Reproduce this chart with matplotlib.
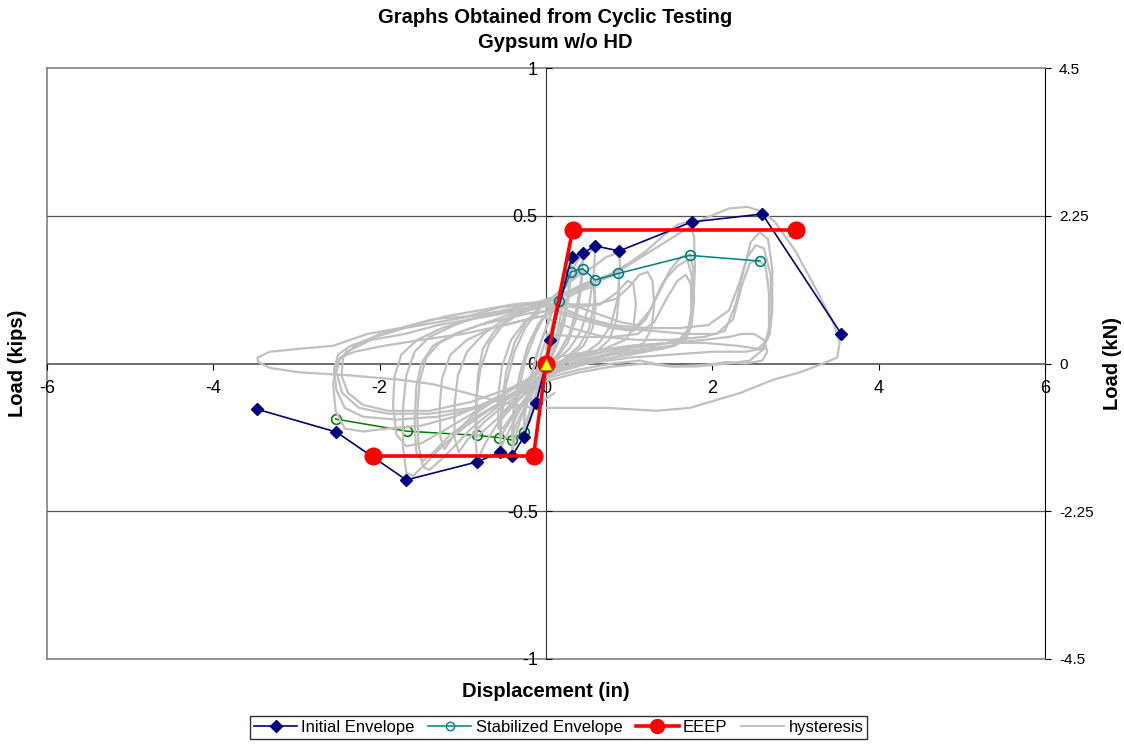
#!/usr/bin/env python3
"""Cyclic test plot: envelopes, EEEP and hysteresis loops (Gypsum w/o HD)."""

import matplotlib
matplotlib.use('Agg')
import matplotlib.pyplot as plt
from matplotlib.lines import Line2D

plt.rcParams['font.family'] = ['Liberation Sans', 'DejaVu Sans']

# ---- data (displacement in, load kips) ----
init_pos_x = [0.0, 0.05, 0.31, 0.45, 0.59, 0.88, 1.75, 2.60, 3.55]
init_pos_y = [0.0, 0.08, 0.361, 0.375, 0.398, 0.381, 0.479, 0.506, 0.10]
init_neg_x = [0.0, -0.12, -0.27, -0.41, -0.55, -0.83, -1.68, -2.52, -3.47]
init_neg_y = [0.0, -0.133, -0.25, -0.313, -0.30, -0.333, -0.394, -0.232, -0.155]

stab_pos_x = [0.0, 0.16, 0.30, 0.44, 0.59, 0.87, 1.73, 2.57]
stab_pos_y = [0.0, 0.213, 0.31, 0.321, 0.283, 0.305, 0.366, 0.347]
stab_neg_x = [0.0, -0.12, -0.27, -0.41, -0.56, -0.83, -1.67, -2.53]
stab_neg_y = [0.0, -0.133, -0.231, -0.259, -0.251, -0.243, -0.229, -0.188]

eeep_x = [-2.08, -0.15, 0.0, 0.32, 3.0]
eeep_y = [-0.313, -0.313, 0.0, 0.452, 0.452]

# hysteresis cycles, (disp, load) pairs
cyc01 = [(0.00, 0.00), (0.02, 0.04), (0.05, 0.08), (0.03, 0.04), (-0.02, -0.03), (-0.08, -0.09),
         (-0.12, -0.13), (-0.09, -0.07), (-0.03, 0.00), (0.02, 0.05)]
cyc02 = [(0.02, 0.05), (0.08, 0.13), (0.15, 0.21), (0.22, 0.28), (0.28, 0.33), (0.31, 0.36),
         (0.29, 0.29), (0.23, 0.18), (0.15, 0.09), (0.06, 0.02), (-0.04, -0.05), (-0.13, -0.12),
         (-0.21, -0.19), (-0.27, -0.25), (-0.26, -0.18), (-0.20, -0.08), (-0.12, 0.02),
         (-0.04, 0.09), (0.03, 0.14)]
cyc03 = [(0.03, 0.14), (0.10, 0.20), (0.18, 0.26), (0.25, 0.29), (0.30, 0.31), (0.28, 0.24),
         (0.22, 0.14), (0.13, 0.06), (0.03, 0.00), (-0.07, -0.06), (-0.16, -0.13), (-0.23, -0.19),
         (-0.27, -0.23), (-0.25, -0.14), (-0.18, -0.04), (-0.09, 0.05), (0.00, 0.12), (0.05, 0.16)]
cyc04 = [(0.05, 0.16), (0.14, 0.22), (0.24, 0.28), (0.34, 0.33), (0.41, 0.36), (0.45, 0.375),
         (0.43, 0.30), (0.37, 0.19), (0.28, 0.10), (0.16, 0.04), (0.02, -0.01), (-0.10, -0.06),
         (-0.22, -0.13), (-0.32, -0.20), (-0.38, -0.26), (-0.41, -0.31), (-0.39, -0.21),
         (-0.33, -0.09), (-0.24, 0.02), (-0.13, 0.10), (-0.02, 0.16), (0.06, 0.19)]
cyc05 = [(0.06, 0.19), (0.16, 0.23), (0.27, 0.27), (0.36, 0.30), (0.44, 0.32), (0.42, 0.25),
         (0.36, 0.15), (0.26, 0.07), (0.13, 0.02), (0.00, -0.03), (-0.14, -0.09), (-0.26, -0.15),
         (-0.35, -0.20), (-0.41, -0.25), (-0.39, -0.15), (-0.32, -0.04), (-0.22, 0.06),
         (-0.10, 0.13), (0.02, 0.18), (0.08, 0.20)]
cyc06 = [(0.08, 0.20), (0.20, 0.25), (0.33, 0.30), (0.45, 0.35), (0.54, 0.38), (0.59, 0.40),
         (0.58, 0.32), (0.52, 0.20), (0.42, 0.11), (0.28, 0.05), (0.12, 0.01), (-0.04, -0.04),
         (-0.20, -0.10), (-0.34, -0.17), (-0.45, -0.23), (-0.52, -0.27), (-0.55, -0.30),
         (-0.54, -0.20), (-0.48, -0.07), (-0.38, 0.04), (-0.25, 0.12), (-0.10, 0.18),
         (0.04, 0.21), (0.12, 0.22)]
cyc07 = [(0.12, 0.22), (0.25, 0.24), (0.38, 0.26), (0.50, 0.275), (0.59, 0.28), (0.58, 0.21),
         (0.52, 0.12), (0.40, 0.06), (0.24, 0.02), (0.06, -0.02), (-0.12, -0.07), (-0.28, -0.13),
         (-0.42, -0.19), (-0.51, -0.23), (-0.55, -0.25), (-0.54, -0.15), (-0.48, -0.03),
         (-0.38, 0.07), (-0.24, 0.14), (-0.08, 0.19), (0.06, 0.22)]
cyc08 = [(0.06, 0.22), (0.22, 0.26), (0.40, 0.30), (0.58, 0.33), (0.72, 0.36), (0.82, 0.37),
         (0.88, 0.38), (0.89, 0.32), (0.86, 0.22), (0.78, 0.13), (0.64, 0.07), (0.44, 0.03),
         (0.22, 0.00), (0.00, -0.04), (-0.22, -0.09), (-0.42, -0.15), (-0.60, -0.21),
         (-0.73, -0.27), (-0.83, -0.33), (-0.85, -0.24), (-0.84, -0.12), (-0.79, -0.02),
         (-0.68, 0.07), (-0.52, 0.13), (-0.32, 0.17), (-0.12, 0.20), (0.04, 0.22)]
cyc09 = [(0.04, 0.22), (0.22, 0.24), (0.42, 0.26), (0.62, 0.28), (0.78, 0.295), (0.87, 0.305),
         (0.88, 0.24), (0.85, 0.15), (0.76, 0.08), (0.60, 0.04), (0.38, 0.01), (0.16, -0.02),
         (-0.06, -0.06), (-0.28, -0.11), (-0.48, -0.16), (-0.64, -0.20), (-0.76, -0.23),
         (-0.83, -0.25), (-0.84, -0.15), (-0.82, -0.04), (-0.76, 0.05), (-0.62, 0.11),
         (-0.42, 0.16), (-0.20, 0.19), (0.00, 0.21)]
cyc10 = [(0.00, 0.21), (0.25, 0.24), (0.50, 0.27), (0.75, 0.30), (1.00, 0.34), (1.20, 0.38),
         (1.40, 0.43), (1.58, 0.47), (1.72, 0.48), (1.78, 0.43), (1.79, 0.32), (1.77, 0.20),
         (1.72, 0.11), (1.62, 0.07), (1.40, 0.05), (1.10, 0.04), (0.80, 0.03), (0.50, 0.01),
         (0.20, -0.02), (-0.10, -0.06), (-0.40, -0.11), (-0.70, -0.16), (-1.00, -0.22),
         (-1.25, -0.28), (-1.45, -0.34), (-1.60, -0.38), (-1.68, -0.37), (-1.72, -0.28),
         (-1.72, -0.15), (-1.68, -0.04), (-1.58, 0.04), (-1.40, 0.09), (-1.10, 0.13),
         (-0.80, 0.16), (-0.50, 0.18), (-0.20, 0.20), (0.05, 0.22)]
cyc11 = [(0.05, 0.22), (0.30, 0.20), (0.60, 0.17), (0.90, 0.14), (1.10, 0.13), (1.25, 0.18),
         (1.38, 0.26), (1.50, 0.32), (1.62, 0.36), (1.73, 0.37), (1.77, 0.32), (1.78, 0.22),
         (1.75, 0.13), (1.68, 0.08), (1.50, 0.06), (1.20, 0.05), (0.90, 0.04), (0.60, 0.02),
         (0.30, 0.00), (0.00, -0.04), (-0.30, -0.09), (-0.60, -0.14), (-0.90, -0.19),
         (-1.15, -0.24), (-1.35, -0.30), (-1.48, -0.33), (-1.56, -0.30), (-1.58, -0.20),
         (-1.56, -0.08), (-1.50, 0.00), (-1.36, 0.06), (-1.10, 0.10), (-0.80, 0.13),
         (-0.50, 0.15), (-0.20, 0.17), (0.05, 0.18)]
cyc12 = [(0.05, 0.18), (0.40, 0.15), (0.80, 0.12), (1.05, 0.11), (1.20, 0.15), (1.32, 0.22),
         (1.45, 0.29), (1.58, 0.33), (1.70, 0.35), (1.75, 0.30), (1.76, 0.20), (1.72, 0.12),
         (1.60, 0.08), (1.30, 0.06), (0.90, 0.05), (0.50, 0.03), (0.10, 0.00), (-0.25, -0.06),
         (-0.60, -0.12), (-0.90, -0.18), (-1.10, -0.24), (-1.22, -0.29), (-1.27, -0.25),
         (-1.28, -0.15), (-1.25, -0.05), (-1.15, 0.03), (-0.95, 0.08), (-0.65, 0.12),
         (-0.35, 0.14), (-0.05, 0.16)]
cyc13 = [(-0.05, 0.16), (0.30, 0.12), (0.70, 0.09), (1.10, 0.08), (1.50, 0.08), (1.90, 0.09),
         (2.15, 0.11), (2.28, 0.20), (2.38, 0.32), (2.46, 0.41), (2.57, 0.445), (2.67, 0.42),
         (2.72, 0.32), (2.72, 0.18), (2.69, 0.10), (2.60, 0.05), (2.40, 0.04), (2.00, 0.04),
         (1.50, 0.03), (1.00, 0.02), (0.50, 0.00), (0.00, -0.04), (-0.40, -0.10), (-0.80, -0.15),
         (-1.30, -0.18), (-1.80, -0.19), (-2.20, -0.18), (-2.42, -0.15), (-2.52, -0.09),
         (-2.55, -0.02), (-2.50, 0.03), (-2.35, 0.06), (-2.05, 0.09), (-1.70, 0.12),
         (-1.30, 0.14), (-0.90, 0.16), (-0.50, 0.18), (-0.15, 0.19), (0.10, 0.20)]
cyc14 = [(0.10, 0.20), (0.50, 0.15), (0.90, 0.12), (1.30, 0.11), (1.70, 0.10), (2.05, 0.10),
         (2.25, 0.15), (2.35, 0.26), (2.45, 0.34), (2.55, 0.35), (2.64, 0.33), (2.68, 0.24),
         (2.68, 0.12), (2.62, 0.05), (2.45, 0.01), (2.20, 0.00), (1.80, -0.01), (1.50, -0.01),
         (1.20, 0.00), (0.80, -0.01), (0.40, -0.03), (0.00, -0.06), (-0.40, -0.11),
         (-0.90, -0.15), (-1.40, -0.17), (-1.90, -0.17), (-2.25, -0.15), (-2.45, -0.10),
         (-2.52, -0.03), (-2.48, 0.02), (-2.30, 0.04), (-1.95, 0.06), (-1.50, 0.08),
         (-1.00, 0.10), (-0.50, 0.13), (-0.10, 0.16)]
cyc15 = [(0.00, 0.00), (-0.30, -0.07), (-0.70, -0.13), (-1.10, -0.18), (-1.50, -0.21),
         (-1.90, -0.22), (-2.20, -0.23), (-2.42, -0.22), (-2.53, -0.16), (-2.56, -0.07),
         (-2.52, 0.00), (-2.40, 0.04), (-2.10, 0.08), (-1.70, 0.10), (-1.30, 0.13),
         (-0.90, 0.15), (-0.50, 0.17), (-0.20, 0.19), (0.00, 0.20)]
cyc16 = [(0.10, -0.10), (-0.16, -0.15), (-0.55, -0.13), (-0.95, -0.10), (-1.36, -0.07),
         (-1.75, -0.055), (-2.36, -0.04), (-2.96, -0.03), (-3.32, -0.015), (-3.46, 0.005),
         (-3.47, 0.02), (-3.32, 0.04), (-2.96, 0.05), (-2.56, 0.06), (-2.15, 0.10),
         (-1.75, 0.12), (-1.36, 0.15), (-0.95, 0.16), (-0.55, 0.19), (-0.16, 0.20),
         (0.05, 0.21), (0.40, 0.25), (0.80, 0.30), (1.20, 0.37), (1.60, 0.44), (1.90, 0.49),
         (2.20, 0.525), (2.42, 0.53), (2.60, 0.515), (2.75, 0.48), (3.00, 0.38), (3.25, 0.25),
         (3.45, 0.14), (3.53, 0.07), (3.50, 0.02), (3.33, 0.00), (3.05, -0.03), (2.73, -0.055),
         (2.33, -0.10), (1.73, -0.15), (1.33, -0.16), (0.73, -0.15), (0.32, -0.15), (0.00, -0.15)]
cyc17 = [(0.00, 0.20), (0.30, 0.20), (0.60, 0.20), (0.85, 0.22), (1.00, 0.26), (1.12, 0.30),
         (1.22, 0.31), (1.28, 0.28), (1.30, 0.20), (1.27, 0.12), (1.18, 0.07), (1.00, 0.05),
         (0.70, 0.03), (0.40, 0.01), (0.10, -0.03), (-0.20, -0.08), (-0.50, -0.14),
         (-0.75, -0.20), (-0.95, -0.26), (-1.05, -0.30), (-1.10, -0.25), (-1.10, -0.14),
         (-1.06, -0.04), (-0.95, 0.04), (-0.75, 0.10), (-0.50, 0.15), (-0.20, 0.18), (0.05, 0.20)]
cyc18 = [(0.05, 0.20), (0.35, 0.19), (0.65, 0.20), (0.85, 0.24), (0.98, 0.28), (1.05, 0.27),
         (1.08, 0.20), (1.05, 0.12), (0.95, 0.08), (0.70, 0.05), (0.40, 0.03), (0.10, 0.00),
         (-0.25, -0.06), (-0.60, -0.12), (-0.95, -0.18), (-1.25, -0.23), (-1.50, -0.27),
         (-1.68, -0.28), (-1.80, -0.24), (-1.84, -0.14), (-1.82, -0.04), (-1.74, 0.03),
         (-1.55, 0.08), (-1.25, 0.12), (-0.90, 0.15), (-0.55, 0.17), (-0.20, 0.19), (0.05, 0.20)]
cyc19 = [(0.00, 0.00), (-0.30, -0.08), (-0.60, -0.15), (-0.90, -0.22), (-1.10, -0.28),
         (-1.28, -0.33), (-1.40, -0.36), (-1.48, -0.35), (-1.53, -0.28), (-1.55, -0.17),
         (-1.52, -0.06), (-1.44, 0.02), (-1.28, 0.07), (-1.00, 0.11), (-0.70, 0.14),
         (-0.40, 0.17), (-0.10, 0.19), (0.10, 0.20)]
cyc20 = [(0.10, 0.02), (0.50, 0.04), (1.00, 0.06), (1.50, 0.07), (1.90, 0.08), (2.20, 0.09),
         (2.35, 0.10), (2.50, 0.10), (2.62, 0.08), (2.66, 0.04), (2.60, 0.01), (2.40, 0.00),
         (2.18, 0.005), (1.90, -0.005), (1.53, -0.01), (1.30, 0.00), (1.13, 0.01), (0.80, 0.00),
         (0.40, -0.02), (0.00, -0.05), (-0.30, -0.10), (-0.50, -0.16)]
cyc21 = [(0.00, 0.05), (0.06, 0.12), (0.13, 0.19), (0.20, 0.24), (0.18, 0.17), (0.12, 0.08),
         (0.04, 0.00), (-0.05, -0.07), (-0.13, -0.14), (-0.20, -0.20), (-0.18, -0.12),
         (-0.12, -0.03), (-0.05, 0.04), (0.02, 0.10)]
cyc22 = [(0.00, 0.16), (0.15, 0.20), (0.30, 0.23), (0.45, 0.25), (0.57, 0.26), (0.60, 0.20),
         (0.56, 0.12), (0.45, 0.06), (0.28, 0.02), (0.10, -0.02), (-0.10, -0.07), (-0.28, -0.13),
         (-0.42, -0.18), (-0.52, -0.22), (-0.57, -0.22), (-0.58, -0.12), (-0.53, -0.01),
         (-0.42, 0.08), (-0.26, 0.14), (-0.10, 0.17), (0.02, 0.18)]
cyc23 = [(0.00, 0.19), (0.40, 0.16), (0.80, 0.13), (1.20, 0.12), (1.60, 0.12), (1.95, 0.13),
         (2.20, 0.18), (2.32, 0.27), (2.42, 0.36), (2.52, 0.40), (2.62, 0.39), (2.70, 0.30),
         (2.71, 0.17), (2.66, 0.08), (2.55, 0.05), (2.30, 0.06), (1.90, 0.07), (1.50, 0.07),
         (1.10, 0.06), (0.70, 0.04), (0.30, 0.01), (0.00, -0.02), (-0.40, -0.08), (-0.90, -0.13),
         (-1.40, -0.16), (-1.90, -0.16), (-2.20, -0.14), (-2.38, -0.10), (-2.46, -0.04),
         (-2.44, 0.02), (-2.30, 0.06), (-2.00, 0.10), (-1.60, 0.13), (-1.20, 0.16),
         (-0.80, 0.18), (-0.40, 0.20), (0.00, 0.21)]
cyc24 = [(0.00, 0.10), (0.40, 0.09), (0.80, 0.09), (1.10, 0.10), (1.30, 0.14), (1.45, 0.22),
         (1.58, 0.28), (1.68, 0.30), (1.74, 0.27), (1.75, 0.18), (1.70, 0.10), (1.55, 0.06),
         (1.20, 0.04), (0.80, 0.02), (0.40, 0.00), (0.00, -0.03), (-0.30, -0.08)]
hysteresis = [cyc01, cyc02, cyc03, cyc04, cyc05, cyc06, cyc07, cyc08, cyc09, cyc10, cyc11,
              cyc12, cyc13, cyc14, cyc15, cyc16, cyc17, cyc18, cyc19, cyc20, cyc21, cyc22,
              cyc23, cyc24]

y_ticks = [-1, -0.5, 0, 0.5, 1]
y_tick_labels = ['-1', '-0.5', '0', '0.5', '1']
x_ticks = [-6, -4, -2, 0, 2, 4, 6]
kn_ticks = [-4.5, -2.25, 0, 2.25, 4.5]
kn_tick_labels = ['-4.5', '-2.25', '0', '2.25', '4.5']

NAVY = '#000080'
TEAL = '#008080'
GREEN = '#008000'
RED = '#FF0000'
GREY = '#C0C0C0'


def main():
    fig = plt.figure(figsize=(11.24, 7.48), dpi=100)
    ax = fig.add_axes([0.0418, 0.119, 0.888, 0.790])
    ax.set_xlim(-6, 6)
    ax.set_ylim(-1, 1)

    # secondary axis carries the grey frame and the kN scale on the right
    ax2 = ax.twinx()
    ax2.set_ylim(-4.5, 4.5)
    ax2.set_yticks(kn_ticks)
    ax2.set_yticklabels(kn_tick_labels)
    for s in ['left', 'top', 'bottom']:
        ax2.spines[s].set_color('#808080')
        ax2.spines[s].set_linewidth(1.2)
    ax2.spines['right'].set_color('black')
    ax2.tick_params(axis='y', direction='out', length=4, pad=6, labelsize=11)
    ax2.set_zorder(0)
    ax.set_zorder(1)
    ax.patch.set_visible(False)

    # gridlines at +/-0.5
    for yv in [-0.5, 0.5]:
        ax.axhline(yv, color='#555555', lw=0.9, zorder=0)

    # centred axes
    ax.spines['left'].set_position(('data', 0))
    ax.spines['bottom'].set_position(('data', 0))
    ax.spines['top'].set_visible(False)
    ax.spines['right'].set_visible(False)
    ax.spines['left'].set_color('#333333')
    ax.spines['bottom'].set_color('#555555')
    ax.spines['bottom'].set_linewidth(1.2)
    ax.set_xticks(x_ticks)
    ax.set_xticklabels([str(v) for v in x_ticks])
    ax.set_yticks(y_ticks)
    ax.set_yticklabels(y_tick_labels)
    ax.tick_params(axis='x', direction='out', length=4, pad=8, labelsize=13)
    ax.tick_params(axis='y', direction='in', length=4, pad=6, labelsize=13)

    # stabilized envelope, negative side (drawn under the loops)
    ax.plot(stab_neg_x, stab_neg_y, color=GREEN, lw=1.1, marker='o', ms=7,
            mfc='none', mec=GREEN, mew=1.2, zorder=2)

    # hysteresis loops
    for cyc in hysteresis:
        xs = [p[0] for p in cyc]
        ys = [p[1] for p in cyc]
        ax.plot(xs, ys, color=GREY, lw=1.6, solid_joinstyle='round', zorder=3)

    ax.plot(stab_pos_x, stab_pos_y, color=TEAL, lw=1.1, marker='o', ms=7,
            mfc='none', mec=TEAL, mew=1.2, zorder=4)
    ax.plot(init_pos_x, init_pos_y, color=NAVY, lw=1.2, marker='D', ms=6, zorder=5)
    ax.plot(init_neg_x, init_neg_y, color=NAVY, lw=1.2, marker='D', ms=6, zorder=5)
    ax.plot(eeep_x, eeep_y, color=RED, lw=2.6, marker='o', ms=12, zorder=6)
    ax.plot([0], [0], marker='^', ms=8, color='#FFFF00', mec='#808000', mew=0.6,
            linestyle='none', zorder=7)

    # titles and axis labels
    fig.text(0.494, 0.976, 'Graphs Obtained from Cyclic Testing', ha='center', va='center',
             fontsize=14.5, fontweight='bold')
    fig.text(0.494, 0.943, 'Gypsum w/o HD', ha='center', va='center',
             fontsize=14.5, fontweight='bold')
    fig.text(0.486, 0.076, 'Displacement (in)', ha='center', va='center',
             fontsize=14.5, fontweight='bold')
    fig.text(0.016, 0.514, 'Load (kips)', ha='center', va='center', rotation=90,
             fontsize=14.5, fontweight='bold')
    fig.text(0.990, 0.514, 'Load (kN)', ha='center', va='center', rotation=90,
             fontsize=14.5, fontweight='bold')

    handles = [
        Line2D([], [], color=NAVY, lw=1.2, marker='D', ms=6),
        Line2D([], [], color=TEAL, lw=1.1, marker='o', ms=6, mfc='none', mec=TEAL),
        Line2D([], [], color=RED, lw=2.6, marker='o', ms=10),
        Line2D([], [], color=GREY, lw=1.4),
    ]
    labels = ['Initial Envelope', 'Stabilized Envelope', 'EEEP', 'hysteresis']
    leg = fig.legend(handles, labels, loc='lower center', bbox_to_anchor=(0.497, 0.001),
                     ncol=4, fontsize=12, frameon=True, fancybox=False, edgecolor='black',
                     handlelength=2.6, handletextpad=0.25, columnspacing=0.8, borderpad=0.25)
    leg.get_frame().set_linewidth(1.0)

    fig.savefig('out.png', dpi=100)


if __name__ == '__main__':
    main()
